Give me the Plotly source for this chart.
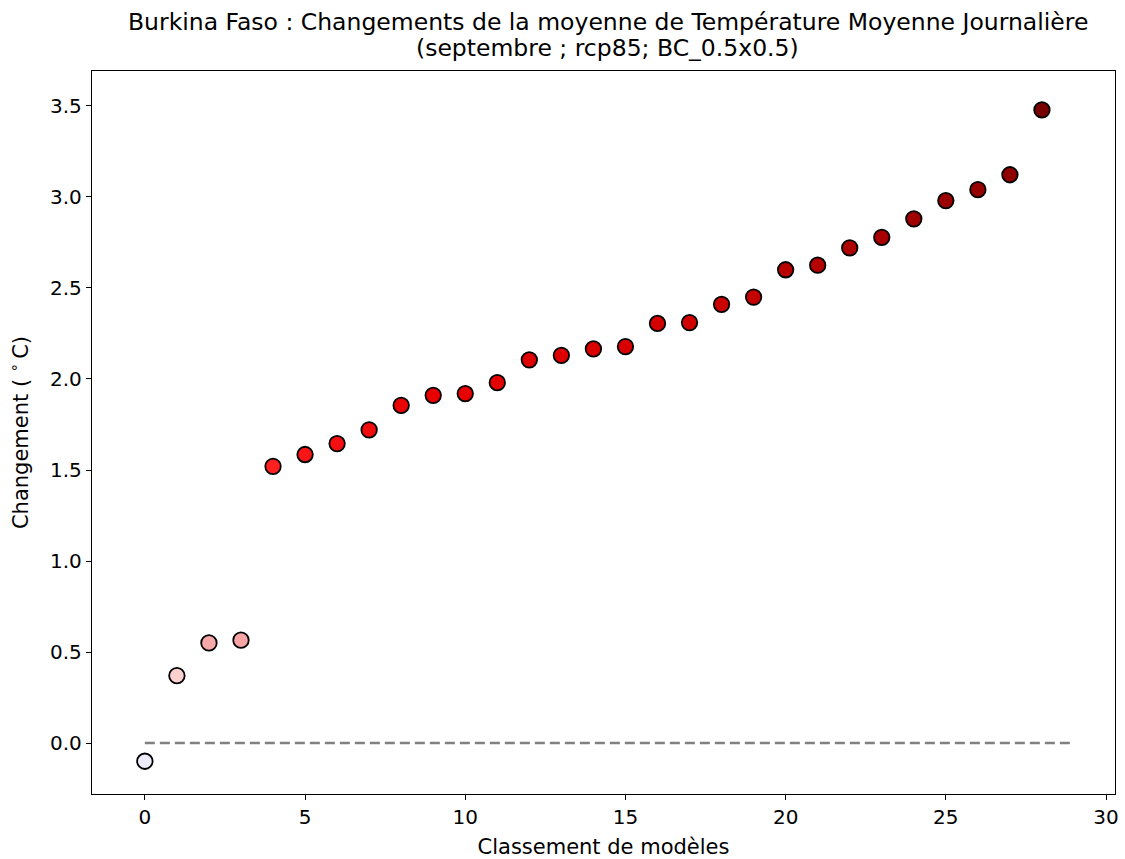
import plotly.graph_objects as go

ranks = list(range(29))
changes = [-0.10, 0.37, 0.55, 0.565, 1.52, 1.585, 1.645, 1.72, 1.855, 1.91, 1.92, 1.98,
           2.105, 2.13, 2.165, 2.178, 2.305, 2.31, 2.41, 2.45, 2.60, 2.625, 2.72, 2.778,
           2.88, 2.98, 3.04, 3.122, 3.478]
colors = ["#ececfa", "#fdd0d0", "#f7a8a8", "#f6a4a4", "#ff2020", "#f81515", "#f41010",
          "#f00c0c", "#ea0303", "#e80000", "#e60000", "#e40000", "#de0000", "#dc0000",
          "#da0000", "#d80000", "#d20000", "#d00000", "#c80000", "#c40000", "#b80000",
          "#b40000", "#ad0000", "#a80000", "#a00000", "#9a0000", "#960000", "#900000",
          "#780000"]
zero_x = [0, 29]
zero_y = [0, 0]
y_ticks = [0.0, 0.5, 1.0, 1.5, 2.0, 2.5, 3.0, 3.5]
x_ticks = [0, 5, 10, 15, 20, 25, 30]
title_lines = ["Burkina Faso : Changements de la moyenne de Température Moyenne Journalière",
               "(septembre ; rcp85; BC_0.5x0.5)"]

fig = go.Figure()
fig.add_trace(go.Scatter(x=zero_x, y=zero_y, mode="lines",
                         line=dict(color="gray", width=2.5, dash="10px,5px"),
                         showlegend=False, hoverinfo="skip"))
fig.add_trace(go.Scatter(x=ranks, y=changes, mode="markers",
                         marker=dict(size=15.5, color=colors, line=dict(color="black", width=1.8)),
                         showlegend=False))

axis_common = dict(showgrid=False, zeroline=False, showline=True, linecolor="black",
                   linewidth=1.3, mirror=True, ticks="outside", ticklen=5, tickwidth=1.3,
                   tickcolor="black", tickfont=dict(size=20, color="black"), automargin=False)
fig.update_xaxes(range=[-1.65, 30.28], tickvals=x_ticks,
                 title=dict(text="Classement de modèles", font=dict(size=21, color="black"), standoff=14),
                 **axis_common)
fig.update_yaxes(range=[-0.28, 3.692], tickvals=y_ticks, tickformat=".1f",
                 title=dict(text="Changement ( <sup>∘</sup>\u2009C)", font=dict(size=21, color="black"), standoff=15),
                 **axis_common)

for line, ypos in zip(title_lines, [1.0678, 1.0318]):
    fig.add_annotation(text=line, xref="paper", yref="paper", x=0.504, y=ypos,
                       xanchor="center", yanchor="middle", showarrow=False,
                       font=dict(size=23.5, color="black"))

fig.update_layout(
    width=1125, height=859,
    margin=dict(l=92, r=10, t=71, b=65),
    plot_bgcolor="white", paper_bgcolor="white",
    font=dict(family="DejaVu Sans", color="black"),
)
fig.write_html("out.html", config={"displayModeBar": False},
               post_script="document.body.style.margin='0';document.body.style.overflow='hidden';")
